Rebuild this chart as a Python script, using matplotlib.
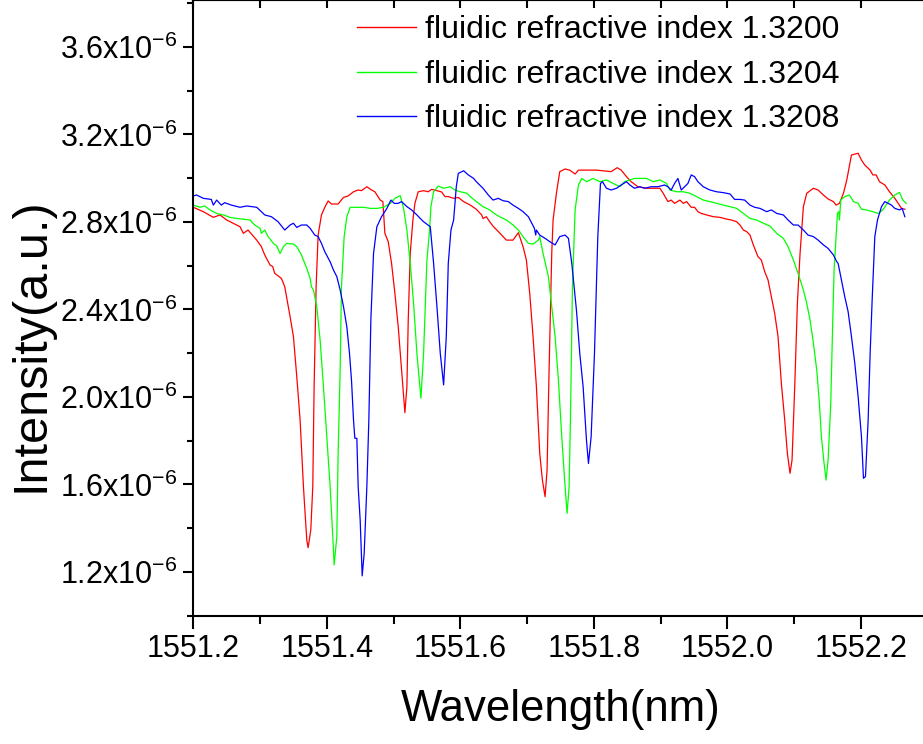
import numpy as np
import matplotlib
matplotlib.use("Agg")
import matplotlib.pyplot as plt
from matplotlib.ticker import FixedLocator, MultipleLocator

plt.rcParams["font.family"] = ["Liberation Sans", "DejaVu Sans"]
plt.rcParams["mathtext.fontset"] = "custom"
plt.rcParams["mathtext.rm"] = "Liberation Sans"
plt.rcParams["mathtext.it"] = "Liberation Sans:italic"
plt.rcParams["mathtext.bf"] = "Liberation Sans:bold"
plt.rcParams["mathtext.default"] = "regular"

# ---- transmission spectra (wavelength in nm, intensity in units of 1e-6 a.u.) ----
wl_13200 = [1551.200, 1551.215, 1551.230, 1551.240, 1551.250, 1551.270, 1551.275, 1551.282, 1551.295, 1551.302,
            1551.307, 1551.315, 1551.319, 1551.322, 1551.332, 1551.337, 1551.345, 1551.350, 1551.355, 1551.360,
            1551.365, 1551.370, 1551.372, 1551.376, 1551.379, 1551.381, 1551.384, 1551.387, 1551.392, 1551.397,
            1551.402, 1551.407, 1551.417, 1551.425, 1551.432, 1551.440, 1551.447, 1551.452, 1551.460, 1551.467,
            1551.472, 1551.480, 1551.484, 1551.487, 1551.492, 1551.497, 1551.502, 1551.507, 1551.512, 1551.517,
            1551.520, 1551.522, 1551.525, 1551.529, 1551.532, 1551.537, 1551.545, 1551.552, 1551.557, 1551.565,
            1551.572, 1551.577, 1551.582, 1551.590, 1551.597, 1551.605, 1551.615, 1551.624, 1551.632, 1551.634,
            1551.639, 1551.644, 1551.649, 1551.657, 1551.664, 1551.669, 1551.679, 1551.687, 1551.694, 1551.699,
            1551.704, 1551.709, 1551.714, 1551.719, 1551.723, 1551.727, 1551.730, 1551.733, 1551.737, 1551.739,
            1551.744, 1551.749, 1551.757, 1551.764, 1551.772, 1551.777, 1551.804, 1551.826, 1551.835, 1551.841,
            1551.849, 1551.856, 1551.866, 1551.879, 1551.899, 1551.904, 1551.911, 1551.916, 1551.921, 1551.929,
            1551.934, 1551.939, 1551.946, 1551.951, 1551.956, 1551.961, 1551.969, 1551.979, 1551.989, 1551.999,
            1552.006, 1552.014, 1552.019, 1552.024, 1552.029, 1552.034, 1552.039, 1552.046, 1552.051, 1552.056,
            1552.061, 1552.066, 1552.071, 1552.076, 1552.081, 1552.086, 1552.090, 1552.094, 1552.097, 1552.101,
            1552.105, 1552.109, 1552.114, 1552.119, 1552.129, 1552.136, 1552.144, 1552.151, 1552.159, 1552.163,
            1552.168, 1552.174, 1552.179, 1552.186, 1552.196, 1552.201, 1552.206, 1552.214, 1552.218, 1552.223,
            1552.228, 1552.236, 1552.243, 1552.251, 1552.256, 1552.261, 1552.266]
int_13200 = [2.867, 2.847, 2.821, 2.832, 2.809, 2.778, 2.748, 2.763, 2.717, 2.687,
             2.649, 2.603, 2.596, 2.565, 2.542, 2.504, 2.367, 2.276, 2.093, 1.895,
             1.590, 1.346, 1.311, 1.392, 1.590, 2.047, 2.504, 2.740, 2.832, 2.867,
             2.896, 2.882, 2.882, 2.912, 2.919, 2.938, 2.946, 2.943, 2.961, 2.946,
             2.938, 2.900, 2.893, 2.748, 2.710, 2.611, 2.474, 2.321, 2.123, 1.928,
             2.047, 2.352, 2.656, 2.809, 2.885, 2.938, 2.943, 2.938, 2.949, 2.943,
             2.937, 2.916, 2.916, 2.908, 2.912, 2.893, 2.877, 2.858, 2.832, 2.816,
             2.824, 2.801, 2.781, 2.756, 2.733, 2.717, 2.717, 2.751, 2.687, 2.626,
             2.474, 2.276, 2.047, 1.742, 1.620, 1.544, 1.666, 2.123, 2.656, 2.809,
             2.931, 3.030, 3.042, 3.037, 3.019, 3.037, 3.037, 3.030, 3.048, 3.037,
             3.007, 2.984, 2.961, 2.954, 2.954, 2.931, 2.893, 2.900, 2.885, 2.900,
             2.885, 2.893, 2.867, 2.867, 2.847, 2.839, 2.832, 2.824, 2.821, 2.813,
             2.809, 2.801, 2.786, 2.763, 2.756, 2.740, 2.695, 2.641, 2.626, 2.573,
             2.535, 2.458, 2.382, 2.276, 2.062, 1.895, 1.742, 1.651, 1.712, 2.047,
             2.428, 2.656, 2.870, 2.931, 2.954, 2.946, 2.923, 2.905, 2.893, 2.877,
             2.885, 2.931, 2.992, 3.106, 3.114, 3.083, 3.060, 3.037, 3.015, 3.015,
             2.984, 2.969, 2.938, 2.908, 2.885, 2.862, 2.858]

wl_13204 = [1551.200, 1551.210, 1551.217, 1551.225, 1551.235, 1551.245, 1551.255, 1551.265, 1551.277, 1551.285,
            1551.292, 1551.300, 1551.302, 1551.307, 1551.312, 1551.320, 1551.325, 1551.330, 1551.335, 1551.340,
            1551.350, 1551.355, 1551.362, 1551.370, 1551.375, 1551.377, 1551.380, 1551.385, 1551.390, 1551.395,
            1551.400, 1551.405, 1551.409, 1551.411, 1551.415, 1551.417, 1551.420, 1551.422, 1551.426, 1551.430,
            1551.435, 1551.445, 1551.455, 1551.465, 1551.475, 1551.485, 1551.495, 1551.502, 1551.510, 1551.515,
            1551.520, 1551.525, 1551.530, 1551.535, 1551.541, 1551.545, 1551.550, 1551.554, 1551.556, 1551.560,
            1551.567, 1551.575, 1551.585, 1551.592, 1551.600, 1551.610, 1551.615, 1551.624, 1551.634, 1551.644,
            1551.654, 1551.659, 1551.669, 1551.679, 1551.687, 1551.694, 1551.702, 1551.709, 1551.717, 1551.719,
            1551.724, 1551.732, 1551.737, 1551.742, 1551.747, 1551.752, 1551.757, 1551.760, 1551.763, 1551.765,
            1551.768, 1551.772, 1551.777, 1551.782, 1551.789, 1551.799, 1551.809, 1551.819, 1551.829, 1551.839,
            1551.846, 1551.854, 1551.861, 1551.879, 1551.889, 1551.899, 1551.909, 1551.914, 1551.924, 1551.934,
            1551.944, 1551.954, 1551.964, 1551.974, 1551.984, 1551.994, 1552.004, 1552.014, 1552.024, 1552.034,
            1552.044, 1552.054, 1552.064, 1552.074, 1552.084, 1552.091, 1552.099, 1552.106, 1552.114, 1552.119,
            1552.124, 1552.129, 1552.134, 1552.138, 1552.141, 1552.145, 1552.148, 1552.151, 1552.155, 1552.158,
            1552.160, 1552.163, 1552.165, 1552.167, 1552.168, 1552.170, 1552.176, 1552.183, 1552.189, 1552.196,
            1552.201, 1552.208, 1552.218, 1552.226, 1552.233, 1552.243, 1552.251, 1552.258, 1552.263, 1552.268]
int_13204 = [2.877, 2.867, 2.873, 2.855, 2.839, 2.832, 2.821, 2.816, 2.812, 2.809,
             2.786, 2.771, 2.748, 2.763, 2.733, 2.702, 2.690, 2.656, 2.687, 2.702,
             2.699, 2.687, 2.649, 2.588, 2.542, 2.504, 2.489, 2.413, 2.260, 2.047,
             1.818, 1.590, 1.361, 1.232, 1.361, 1.742, 2.123, 2.504, 2.733, 2.824,
             2.867, 2.867, 2.867, 2.862, 2.862, 2.867, 2.885, 2.908, 2.920, 2.862,
             2.763, 2.611, 2.428, 2.199, 1.994, 2.199, 2.626, 2.763, 2.870, 2.938,
             2.964, 2.954, 2.961, 2.946, 2.938, 2.931, 2.916, 2.893, 2.870, 2.855,
             2.832, 2.824, 2.809, 2.786, 2.763, 2.733, 2.702, 2.699, 2.717, 2.733,
             2.656, 2.550, 2.413, 2.276, 2.077, 1.818, 1.590, 1.468, 1.590, 1.895,
             2.504, 2.855, 2.969, 2.999, 2.984, 2.999, 2.984, 2.992, 2.976, 2.961,
             2.984, 2.992, 2.999, 2.999, 2.984, 2.992, 2.976, 2.946, 2.938, 2.938,
             2.931, 2.916, 2.900, 2.893, 2.885, 2.877, 2.870, 2.862, 2.839, 2.816,
             2.809, 2.794, 2.781, 2.748, 2.725, 2.687, 2.626, 2.565, 2.489, 2.428,
             2.352, 2.245, 2.123, 1.971, 1.818, 1.696, 1.620, 1.712, 1.971, 2.352,
             2.580, 2.733, 2.839, 2.847, 2.809, 2.900, 2.916, 2.923, 2.893, 2.885,
             2.858, 2.855, 2.847, 2.839, 2.855, 2.900, 2.923, 2.935, 2.900, 2.885]

wl_13208 = [1551.200, 1551.205, 1551.215, 1551.227, 1551.230, 1551.235, 1551.242, 1551.247, 1551.257, 1551.270,
            1551.280, 1551.287, 1551.295, 1551.302, 1551.307, 1551.317, 1551.327, 1551.337, 1551.345, 1551.350,
            1551.355, 1551.362, 1551.370, 1551.375, 1551.382, 1551.387, 1551.392, 1551.397, 1551.405, 1551.410,
            1551.415, 1551.420, 1551.425, 1551.430, 1551.434, 1551.437, 1551.440, 1551.442, 1551.445, 1551.447,
            1551.450, 1551.453, 1551.456, 1551.460, 1551.463, 1551.466, 1551.470, 1551.475, 1551.482, 1551.490,
            1551.496, 1551.501, 1551.507, 1551.512, 1551.520, 1551.527, 1551.535, 1551.540, 1551.545, 1551.555,
            1551.560, 1551.565, 1551.570, 1551.575, 1551.579, 1551.582, 1551.586, 1551.590, 1551.594, 1551.597,
            1551.605, 1551.612, 1551.620, 1551.624, 1551.629, 1551.634, 1551.642, 1551.649, 1551.657, 1551.664,
            1551.672, 1551.679, 1551.687, 1551.694, 1551.702, 1551.707, 1551.711, 1551.713, 1551.714, 1551.719,
            1551.727, 1551.734, 1551.742, 1551.749, 1551.757, 1551.762, 1551.767, 1551.774, 1551.779, 1551.784,
            1551.789, 1551.792, 1551.796, 1551.801, 1551.806, 1551.810, 1551.813, 1551.819, 1551.826, 1551.834,
            1551.841, 1551.849, 1551.854, 1551.861, 1551.869, 1551.876, 1551.886, 1551.896, 1551.906, 1551.911,
            1551.916, 1551.921, 1551.926, 1551.931, 1551.936, 1551.941, 1551.946, 1551.951, 1551.956, 1551.964,
            1551.974, 1551.984, 1551.994, 1552.004, 1552.011, 1552.019, 1552.026, 1552.034, 1552.041, 1552.049,
            1552.059, 1552.066, 1552.074, 1552.084, 1552.091, 1552.099, 1552.106, 1552.114, 1552.121, 1552.129,
            1552.136, 1552.144, 1552.151, 1552.159, 1552.164, 1552.166, 1552.171, 1552.176, 1552.181, 1552.186,
            1552.191, 1552.196, 1552.201, 1552.204, 1552.207, 1552.211, 1552.214, 1552.217, 1552.221, 1552.225,
            1552.231, 1552.236, 1552.241, 1552.246, 1552.251, 1552.258, 1552.262, 1552.266]
int_13208 = [2.919, 2.923, 2.908, 2.903, 2.877, 2.900, 2.877, 2.888, 2.877, 2.867,
             2.873, 2.870, 2.867, 2.847, 2.832, 2.824, 2.801, 2.763, 2.786, 2.794,
             2.775, 2.786, 2.786, 2.771, 2.740, 2.733, 2.702, 2.664, 2.618, 2.580,
             2.550, 2.489, 2.413, 2.321, 2.199, 2.077, 1.895, 1.811, 1.811, 1.590,
             1.437, 1.182, 1.285, 1.590, 1.895, 2.352, 2.656, 2.778, 2.824, 2.862,
             2.900, 2.885, 2.885, 2.893, 2.870, 2.855, 2.832, 2.816, 2.801, 2.778,
             2.611, 2.413, 2.199, 2.055, 2.276, 2.611, 2.763, 2.809, 2.961, 3.022,
             3.034, 3.015, 2.999, 2.984, 2.969, 2.954, 2.923, 2.900, 2.908, 2.897,
             2.893, 2.877, 2.862, 2.847, 2.824, 2.794, 2.771, 2.740, 2.763, 2.740,
             2.725, 2.710, 2.695, 2.733, 2.740, 2.725, 2.611, 2.397, 2.199, 2.047,
             1.803, 1.696, 1.818, 2.199, 2.733, 2.976, 2.984, 2.954, 2.946, 2.954,
             2.969, 2.984, 2.969, 2.954, 2.961, 2.954, 2.961, 2.961, 2.969, 2.961,
             2.946, 2.976, 2.999, 2.946, 2.961, 2.976, 3.015, 3.007, 2.984, 2.961,
             2.946, 2.938, 2.934, 2.928, 2.903, 2.903, 2.900, 2.877, 2.867, 2.862,
             2.847, 2.855, 2.839, 2.832, 2.809, 2.786, 2.786, 2.763, 2.740, 2.733,
             2.717, 2.695, 2.679, 2.649, 2.618, 2.611, 2.535, 2.458, 2.390, 2.276,
             2.154, 2.001, 1.818, 1.628, 1.636, 1.895, 2.199, 2.443, 2.733, 2.809,
             2.870, 2.893, 2.885, 2.877, 2.862, 2.855, 2.862, 2.824]

series_labels = ["fluidic refractive index 1.3200",
                 "fluidic refractive index 1.3204",
                 "fluidic refractive index 1.3208"]
series_colors = ["#ff0000", "#00ff00", "#0000ff"]

x_ticks = [1551.2, 1551.4, 1551.6, 1551.8, 1552.0, 1552.2]
x_tick_labels = ["1551.2", "1551.4", "1551.6", "1551.8", "1552.0", "1552.2"]
y_ticks = [1.2e-6, 1.6e-6, 2.0e-6, 2.4e-6, 2.8e-6, 3.2e-6, 3.6e-6]
y_tick_labels = ["1.2x10$^{-6}$", "1.6x10$^{-6}$", "2.0x10$^{-6}$", "2.4x10$^{-6}$",
                 "2.8x10$^{-6}$", "3.2x10$^{-6}$", "3.6x10$^{-6}$"]
UNIT = 1e-6

W, H = 923, 744
fig = plt.figure(figsize=(W / 100, H / 100), dpi=100)
ax_left, ax_bottom = 193.3, 128.3
ax_w, ax_h = 734.25, 615.7
ax = fig.add_axes([ax_left / W, ax_bottom / H, ax_w / W, ax_h / H])

for wl, inten, lab, col in zip([wl_13200, wl_13204, wl_13208],
                               [int_13200, int_13204, int_13208],
                               series_labels, series_colors):
    ax.plot(wl, np.asarray(inten) * UNIT, color=col, lw=0.9, label=lab)

ax.set_xlim(1551.2, 1552.3)
ax.set_ylim(1.0e-6, 1.0e-6 + ax_h / 218.75 * 1e-6)

ax.xaxis.set_major_locator(FixedLocator(x_ticks))
ax.set_xticklabels(x_tick_labels)
ax.xaxis.set_minor_locator(MultipleLocator(0.1))
ax.yaxis.set_major_locator(FixedLocator(y_ticks))
ax.set_yticklabels(y_tick_labels)
ax.yaxis.set_minor_locator(MultipleLocator(0.2e-6))

for sp in ax.spines.values():
    sp.set_linewidth(1.5)

ax.tick_params(axis="x", which="major", direction="out", length=9, width=1.5,
               labelsize=22, pad=4)
ax.tick_params(axis="x", which="minor", direction="out", length=5.5, width=1.5)
ax.tick_params(axis="y", which="major", direction="out", length=7.5, width=1.5,
               labelsize=22, pad=4)
ax.tick_params(axis="y", which="minor", direction="out", length=4, width=1.5)

# inward ticks along the top frame
top = ax.secondary_xaxis("top")
top.xaxis.set_major_locator(FixedLocator(x_ticks))
top.xaxis.set_minor_locator(MultipleLocator(0.1))
top.tick_params(which="both", direction="in", length=6, width=1.5, labeltop=False)
top.spines["top"].set_linewidth(1.5)

ax.set_xlabel("Wavelength(nm)", fontsize=31.5)
ax.xaxis.set_label_coords(0.5, -0.1195)
ax.set_ylabel("Intensity(a.u.)", fontsize=35)
ax.yaxis.set_label_coords(-0.191, 0.44)

leg = ax.legend(loc="upper left", bbox_to_anchor=(357 / W, 1 - 15 / H),
                bbox_transform=fig.transFigure, frameon=False, fontsize=23,
                handlelength=1.84, handletextpad=0.28, labelspacing=0.46,
                borderpad=0, borderaxespad=0)
for line in leg.get_lines():
    line.set_linewidth(1.0)

fig.savefig("out.png", dpi=100)
